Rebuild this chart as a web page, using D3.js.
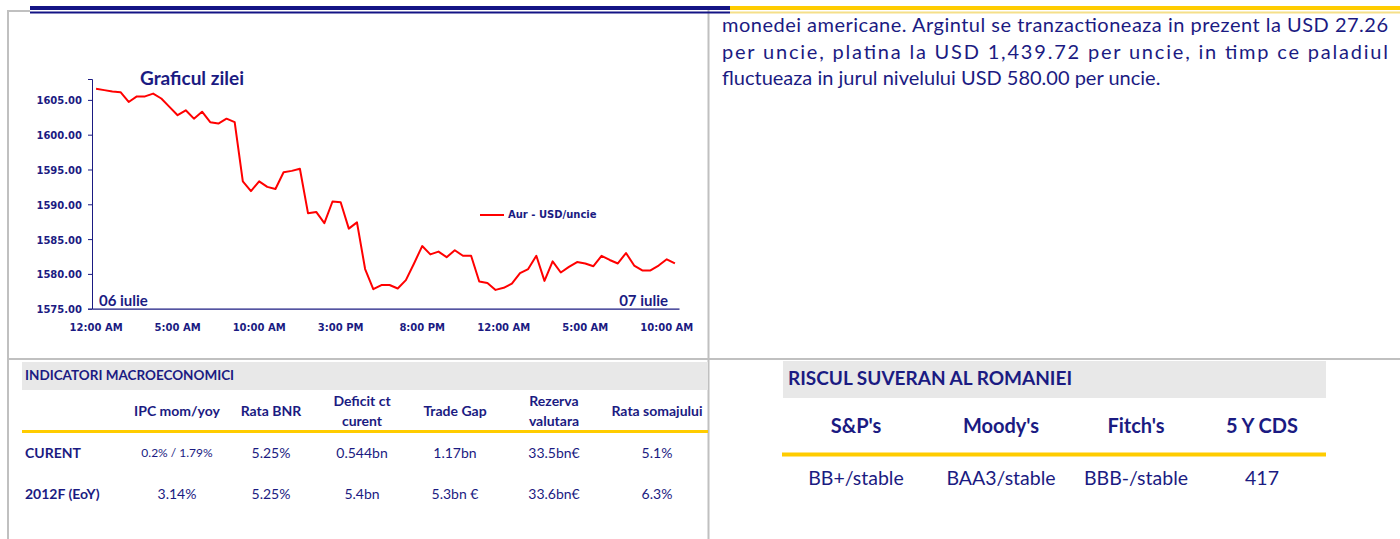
<!DOCTYPE html>
<html>
<head>
<meta charset="utf-8">
<script src="https://cdn.jsdelivr.net/npm/d3@7"></script>
<style>
  html, body { margin: 0; padding: 0; background: #fff; }
  svg { display: block; }
</style>
</head>
<body>
<div id="page"></div>
<script>
/* Pagina zilei - grafic aur + indicatori */

// Aur - USD/uncie, one value per half hour
const goldPrices = [
  1606.6, 1606.4, 1606.2, 1606.1, 1604.7, 1605.5, 1605.5, 1605.9, 1605.2, 1604.0,
  1602.8, 1603.5, 1602.3, 1603.3, 1601.8, 1601.6, 1602.3, 1601.8, 1593.3, 1591.9,
  1593.3, 1592.5, 1592.2, 1594.6, 1594.8, 1595.1, 1588.7, 1588.9, 1587.3, 1590.4,
  1590.3, 1586.5, 1587.4, 1580.7, 1577.8, 1578.4, 1578.4, 1577.9, 1579.1, 1581.5,
  1584.0, 1582.8, 1583.2, 1582.4, 1583.4, 1582.6, 1582.6, 1578.9, 1578.7, 1577.7,
  1578.0, 1578.6, 1580.1, 1580.7, 1582.6, 1579.0, 1581.8, 1580.2, 1581.0, 1581.7,
  1581.5, 1581.1, 1582.6, 1582.0, 1581.5, 1583.0, 1581.2, 1580.5, 1580.5, 1581.2,
  1582.1, 1581.5
];
const timeLabels = ['12:00 AM', '5:00 AM', '10:00 AM', '3:00 PM', '8:00 PM', '12:00 AM', '5:00 AM', '10:00 AM'];
const yTicks = [1575, 1580, 1585, 1590, 1595, 1600, 1605];
const dayLabels = ['06 iulie', '07 iulie'];
const seriesName = 'Aur - USD/uncie';

const paragraphLines = [
  'monedei americane. Argintul se tranzactioneaza in prezent la USD 27.26',
  'per uncie, platina la  USD 1,439.72 per uncie, in timp ce paladiul',
  'fluctueaza in jurul nivelului USD 580.00 per uncie.'
];

const macroHeaders = [['IPC mom/yoy'], ['Rata BNR'], ['Deficit ct', 'curent'], ['Trade Gap'], ['Rezerva', 'valutara'], ['Rata somajului']];
const macroRowNames = ['CURENT', '2012F (EoY)'];
const macroCurent = ['0.2% / 1.79%', '5.25%', '0.544bn', '1.17bn', '33.5bn€', '5.1%'];
const macro2012 = ['3.14%', '5.25%', '5.4bn', '5.3bn €', '33.6bn€', '6.3%'];

const riskHeaders = ["S&P's", "Moody's", "Fitch's", '5 Y CDS'];
const riskValues = ['BB+/stable', 'BAA3/stable', 'BBB-/stable', '417'];

const navy = '#1b1b82';
const grey = '#c0c0c0';
const calibri = 'Lato, "Open Sans", sans-serif';
const tahoma = '"DejaVu Sans", Verdana, sans-serif';

const W = 1400, H = 539;
const svg = d3.select('#page').append('svg').attr('width', W).attr('height', H);

// ============================================
// Frame lines
// ============================================
svg.append('line').attr('x1', 8).attr('x2', 30).attr('y1', 11).attr('y2', 11)
  .attr('stroke', grey).attr('stroke-width', 2);
svg.append('line').attr('x1', 8).attr('x2', 8).attr('y1', 10).attr('y2', H)
  .attr('stroke', grey).attr('stroke-width', 2);
svg.append('line').attr('x1', 708.5).attr('x2', 708.5).attr('y1', 10).attr('y2', H)
  .attr('stroke', grey).attr('stroke-width', 2);
svg.append('line').attr('x1', 8).attr('x2', W).attr('y1', 359).attr('y2', 359)
  .attr('stroke', grey).attr('stroke-width', 2);

// top rule: blue on the left, yellow on the right
svg.append('rect').attr('x', 30).attr('y', 6).attr('width', 700).attr('height', 4).attr('fill', '#141485');
svg.append('rect').attr('x', 30).attr('y', 11.5).attr('width', 700).attr('height', 2).attr('fill', '#141485');
svg.append('rect').attr('x', 730).attr('y', 6).attr('width', 670).attr('height', 4).attr('fill', '#ffcc00');
svg.append('rect').attr('x', 730).attr('y', 11.5).attr('width', 670).attr('height', 2).attr('fill', '#f5e08a');

// ============================================
// LINE CHART: Graficul zilei
// ============================================
const x = d3.scaleBand()
  .domain(d3.range(goldPrices.length))
  .range([92, 679]);

const y = d3.scaleLinear()
  .domain([1575, 1608])
  .range([308.7, 79]);

const chart = svg.append('g');

const yAxis = chart.append('g')
  .attr('transform', 'translate(92,0)')
  .call(d3.axisLeft(y).tickValues(yTicks).tickSize(4).tickFormat(d => d.toFixed(2)));
yAxis.select('.domain').attr('stroke', navy).attr('stroke-width', 1);
yAxis.selectAll('line').attr('stroke', navy);
yAxis.selectAll('text')
  .attr('x', -10)
  .attr('dy', '0.4em')
  .attr('fill', navy)
  .attr('font-family', tahoma)
  .attr('font-weight', 'bold')
  .attr('font-size', '10px');

const xAxis = chart.append('g')
  .attr('transform', `translate(0,${y(1575)})`)
  .call(d3.axisBottom(x).tickValues(d3.range(0, goldPrices.length, 10)).tickSize(0)
    .tickFormat((d, i) => timeLabels[i]));
xAxis.select('.domain').attr('stroke', navy).attr('stroke-width', 1.3);
xAxis.selectAll('text')
  .attr('y', 15)
  .attr('fill', navy)
  .attr('font-family', tahoma)
  .attr('font-weight', 'bold')
  .attr('font-size', '10px');

const line = d3.line()
  .x((d, i) => x(i) + x.bandwidth() / 2)
  .y(d => y(d));

chart.append('path')
  .datum(goldPrices)
  .attr('d', line)
  .attr('fill', 'none')
  .attr('stroke', '#ff0000')
  .attr('stroke-width', 2)
  .attr('stroke-linejoin', 'round');

// title
chart.append('text')
  .attr('x', 140)
  .attr('y', 85)
  .attr('fill', navy)
  .attr('font-family', calibri)
  .attr('font-weight', 'bold')
  .attr('font-size', '19px')
  .text('Graficul zilei');

// legend
chart.append('line')
  .attr('x1', 480).attr('x2', 504)
  .attr('y1', 215).attr('y2', 215)
  .attr('stroke', '#ff0000').attr('stroke-width', 2);
chart.append('text')
  .attr('x', 508)
  .attr('y', 215)
  .attr('dominant-baseline', 'middle')
  .attr('fill', navy)
  .attr('font-family', tahoma)
  .attr('font-weight', 'bold')
  .attr('font-size', '10px')
  .text(seriesName);

// day markers
chart.append('text')
  .attr('x', 99).attr('y', 306)
  .attr('fill', navy).attr('font-family', calibri).attr('font-weight', 'bold').attr('font-size', '15px')
  .text(dayLabels[0]);
chart.append('text')
  .attr('x', 668).attr('y', 306).attr('text-anchor', 'end')
  .attr('fill', navy).attr('font-family', calibri).attr('font-weight', 'bold').attr('font-size', '15px')
  .text(dayLabels[1]);

// ============================================
// Paragraph (right)
// ============================================
const para = svg.append('g');
paragraphLines.forEach((txt, i) => {
  const t = para.append('text')
    .attr('x', 722)
    .attr('y', 32 + i * 26.5)
    .attr('fill', navy)
    .attr('font-family', calibri)
    .attr('font-size', '20px')
    .text(txt);
  if (i < paragraphLines.length - 1) {
    t.attr('textLength', 666).attr('lengthAdjust', 'spacing');
  }
});

// ============================================
// TABLE: INDICATORI MACROECONOMICI
// ============================================
const macro = svg.append('g');
macro.append('rect').attr('x', 22).attr('y', 362).attr('width', 686).attr('height', 28).attr('fill', '#e8e8e8');
macro.append('text')
  .attr('x', 25).attr('y', 380)
  .attr('fill', navy).attr('font-family', calibri).attr('font-weight', 'bold').attr('font-size', '13.5px')
  .text('INDICATORI MACROECONOMICI');

const macroCols = [177, 271, 362, 455, 554, 657];

macroHeaders.forEach((lines, c) => {
  lines.forEach((ln, k) => {
    const yy = lines.length === 1 ? 412 : 402 + k * 20;
    macro.append('text')
      .attr('x', macroCols[c]).attr('y', yy)
      .attr('text-anchor', 'middle').attr('dominant-baseline', 'middle')
      .attr('fill', navy).attr('font-family', calibri).attr('font-weight', 'bold').attr('font-size', '14px')
      .text(ln);
  });
});

macro.append('rect').attr('x', 22).attr('y', 430).attr('width', 686).attr('height', 3).attr('fill', '#ffcc00');

[macroCurent, macro2012].forEach((row, r) => {
  const yy = r === 0 ? 454 : 495;
  macro.append('text')
    .attr('x', 25).attr('y', yy).attr('dominant-baseline', 'middle')
    .attr('fill', navy).attr('font-family', calibri).attr('font-weight', 'bold').attr('font-size', '14px')
    .text(macroRowNames[r]);
  row.forEach((v, c) => {
    macro.append('text')
      .attr('x', macroCols[c]).attr('y', yy)
      .attr('text-anchor', 'middle').attr('dominant-baseline', 'middle')
      .attr('fill', navy).attr('font-family', calibri)
      .attr('font-size', (r === 0 && c === 0) ? '12px' : '14px')
      .text(v);
  });
});

// ============================================
// TABLE: RISCUL SUVERAN AL ROMANIEI
// ============================================
const risk = svg.append('g');
risk.append('rect').attr('x', 783).attr('y', 361).attr('width', 543).attr('height', 37).attr('fill', '#e8e8e8');
risk.append('text')
  .attr('x', 788).attr('y', 380).attr('dominant-baseline', 'middle')
  .attr('fill', navy).attr('font-family', calibri).attr('font-weight', 'bold').attr('font-size', '19px')
  .text('RISCUL SUVERAN AL ROMANIEI');

const riskCols = [856, 1001, 1136, 1262];
riskHeaders.forEach((h, c) => {
  risk.append('text')
    .attr('x', riskCols[c]).attr('y', 428)
    .attr('text-anchor', 'middle').attr('dominant-baseline', 'middle')
    .attr('fill', navy).attr('font-family', calibri).attr('font-weight', 'bold').attr('font-size', '20px')
    .text(h);
});
risk.append('rect').attr('x', 782).attr('y', 452.5).attr('width', 544).attr('height', 4).attr('fill', '#ffcc00');
riskValues.forEach((v, c) => {
  risk.append('text')
    .attr('x', riskCols[c]).attr('y', 480)
    .attr('text-anchor', 'middle').attr('dominant-baseline', 'middle')
    .attr('fill', navy).attr('font-family', calibri).attr('font-size', '19.5px')
    .text(v);
});
</script>
</body>
</html>
